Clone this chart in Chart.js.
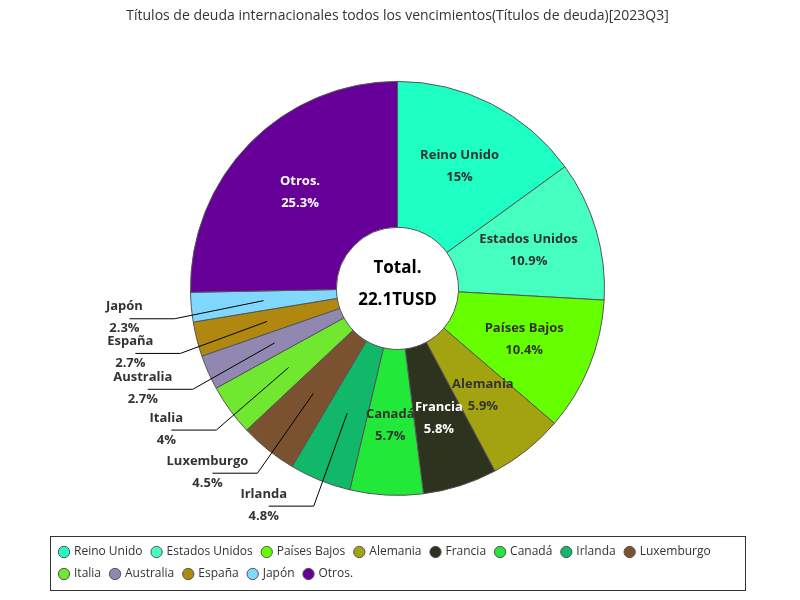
<!DOCTYPE html>
<html><head><meta charset="utf-8">
<script src="https://cdn.jsdelivr.net/npm/chart.js@4/dist/chart.umd.min.js"></script>
<style>body{margin:0;background:#fff}#wrap{width:800px;height:600px}</style>
</head><body><div id="wrap"><canvas id="c"></canvas></div>
<script>
const labels = ['Reino Unido','Estados Unidos','Países Bajos','Alemania','Francia','Canadá','Irlanda','Luxemburgo','Italia','Australia','España','Japón','Otros.'];
const shares = [15, 10.9, 10.4, 5.9, 5.8, 5.7, 4.8, 4.5, 4, 2.7, 2.7, 2.3, 25.3];
const colors = ['#1effc4','#45ffc0','#66ff00','#a3a312','#2e3320','#22e83a','#12b86a','#7a5230','#70e830','#9088b0','#b08810','#80d8ff','#660099'];
const outside = ['Irlanda','Luxemburgo','Italia','Australia','España','Japón'];
const whiteText = ['Francia','Otros.'];
const totalText = ['Total.', '22.1TUSD'];

const font = '"Open Sans", "DejaVu Sans", sans-serif';

const labelPlugin = {
    id: 'labels',
    afterDraw(chart) {
        const ctx = chart.ctx;
        const arcs = chart.getDatasetMeta(0).data;
        ctx.save();
        ctx.font = 'bold 13px ' + font;
        ctx.textAlign = 'center';
        ctx.textBaseline = 'middle';
        arcs.forEach((arc, i) => {
            const { x, y, startAngle, endAngle, outerRadius } = arc.getProps(['x','y','startAngle','endAngle','outerRadius'], true);
            const mid = (startAngle + endAngle) / 2;
            const name = labels[i];
            const pct = shares[i] + '%';
            if (outside.includes(name)) {
                const r1 = outerRadius * 0.65, r2 = outerRadius + 17;
                const px = x + Math.cos(mid) * r1, py = y + Math.sin(mid) * r1;
                const ex = x + Math.cos(mid) * r2, ey = y + Math.sin(mid) * r2 + 10;
                ctx.strokeStyle = '#000';
                ctx.lineWidth = 1;
                ctx.beginPath();
                ctx.moveTo(px, py);
                ctx.lineTo(ex, ey);
                ctx.lineTo(ex - 45, ey);
                ctx.stroke();
                ctx.fillStyle = '#333';
                ctx.fillText(name, ex - 50, ey - 12);
                ctx.fillText(pct, ex - 50, ey + 10);
            } else {
                const r = outerRadius * 0.66;
                const tx = x + Math.cos(mid) * r, ty = y + Math.sin(mid) * r;
                ctx.fillStyle = whiteText.includes(name) ? '#fff' : '#333';
                ctx.fillText(name, tx, ty - 11);
                ctx.fillText(pct, tx, ty + 11);
            }
        });
        const a0 = arcs[0];
        ctx.fillStyle = '#000';
        ctx.font = 'bold 17px ' + font;
        ctx.fillText(totalText[0], a0.x, a0.y - 20);
        ctx.fillText(totalText[1], a0.x, a0.y + 12);
        const lg = chart.legend;
        ctx.strokeStyle = '#333';
        ctx.strokeRect(lg.left + 0.5, lg.top + 0.5, lg.width, lg.height);
        ctx.restore();
    }
};

new Chart(document.getElementById('c').getContext('2d'), {
    type: 'doughnut',
    data: {
        labels,
        datasets: [{
            data: shares,
            backgroundColor: colors,
            borderColor: '#555',
            borderWidth: 1
        }]
    },
    options: {
        responsive: true,
        maintainAspectRatio: false,
        animation: false,
        cutout: '29.5%',
        radius: 207,
        layout: { padding: { left: 50, right: 55, top: 0, bottom: 10 } },
        plugins: {
            title: {
                display: true,
                text: 'Títulos de deuda internacionales todos los vencimientos(Títulos de deuda)[2023Q3]',
                color: '#333',
                font: { family: font, size: 14, weight: 'normal' },
                padding: { top: 8, bottom: 16 }
            },
            legend: {
                position: 'bottom',
                align: 'start',
                labels: {
                    usePointStyle: true,
                    pointStyle: 'circle',
                    boxWidth: 8, boxHeight: 8,
                    padding: 10,
                    color: '#333',
                    font: { family: font, size: 12 }
                }
            },
            tooltip: { enabled: false }
        }
    },
    plugins: [labelPlugin]
});
</script>
</body></html>
